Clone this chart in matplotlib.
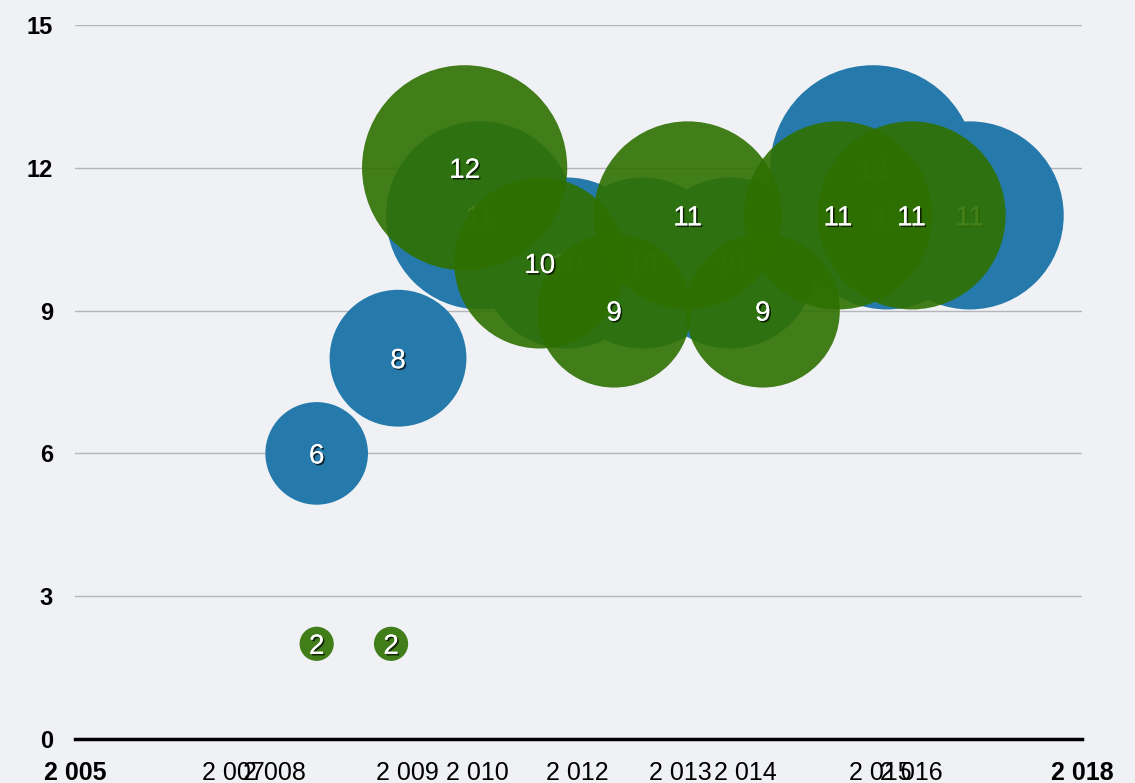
"""Bubble chart: two series of yearly values, bubble radius scales with value."""

import matplotlib

matplotlib.use("Agg")

import matplotlib.patheffects as pe
import matplotlib.pyplot as plt

# blue series (drawn underneath)
blue_x = [2008.12, 2009.17, 2010.23, 2011.35, 2012.33, 2013.46, 2015.30, 2015.48, 2016.55]
blue_v = [6, 8, 11, 10, 10, 10, 12, 11, 11]

# green series (drawn on top)
green_x = [2008.12, 2009.08, 2010.03, 2011.00, 2011.96, 2012.91, 2013.88, 2014.85, 2015.80]
green_v = [2, 2, 12, 10, 9, 11, 9, 11, 11]

xtick_pos = [2005, 2007.05, 2007.58, 2009.29, 2010.2, 2011.48, 2012.81, 2013.65, 2015.39, 2015.8, 2018]
xtick_labels = ["2 005", "2 007", "2 008", "2 009", "2 010", "2 012", "2 013", "2 014", "2 015", "2 016", "2 018"]
ytick_pos = [0, 3, 6, 9, 12, 15]

DPI = 100
RADIUS_PX = 8.55  # bubble radius in pixels per unit of value

BLUE = "#257aab"
GREEN = "#2e7000"
BG = "#eff1f5"


def bubble_size(values):
    return [(2 * RADIUS_PX * v * 72 / DPI) ** 2 for v in values]


fig = plt.figure(figsize=(11.35, 7.83), dpi=DPI, facecolor=BG)
ax = fig.add_axes([75 / 1135, 44 / 783, 1007 / 1135, 714 / 783])
ax.set_facecolor(BG)

ax.set_xlim(2005, 2018)
ax.set_ylim(0, 15)

for yv in ytick_pos[1:]:
    ax.axhline(yv, color="#b4b6ba", lw=1, zorder=0)

shadow = [pe.withSimplePatchShadow(offset=(1.2, -1.2), shadow_rgbFace="black", alpha=0.7), pe.Normal()]

ax.scatter(blue_x, blue_v, s=bubble_size(blue_v), color=BLUE, edgecolors="none",
           zorder=2, clip_on=False)
for x, v in zip(blue_x, blue_v):
    ax.text(x, v, str(v), color="white", fontsize=20, ha="center", va="center_baseline",
            family="Liberation Sans", zorder=3, path_effects=shadow)

ax.scatter(green_x, green_v, s=bubble_size(green_v), color=GREEN, alpha=0.9,
           edgecolors="none", zorder=4, clip_on=False)
for x, v in zip(green_x, green_v):
    ax.text(x, v, str(v), color="white", fontsize=20, ha="center", va="center_baseline",
            family="Liberation Sans", zorder=5, path_effects=shadow)

for side in ["top", "right", "left"]:
    ax.spines[side].set_visible(False)
ax.spines["bottom"].set_color("black")
ax.spines["bottom"].set_linewidth(2.5)
ax.spines["bottom"].set_zorder(6)

ax.set_yticks(ytick_pos)
ax.set_yticklabels([str(v) for v in ytick_pos], fontsize=17, fontweight="bold",
                   family="Liberation Sans")
ax.tick_params(axis="y", length=0, pad=16)

ax.set_xticks(xtick_pos)
ax.set_xticklabels(xtick_labels, fontsize=18, family="Liberation Sans")
ax.tick_params(axis="x", length=0, pad=16)
for lbl in (ax.get_xticklabels()[0], ax.get_xticklabels()[-1]):
    lbl.set_fontweight("bold")

fig.savefig("out.png", dpi=DPI, facecolor=BG)
